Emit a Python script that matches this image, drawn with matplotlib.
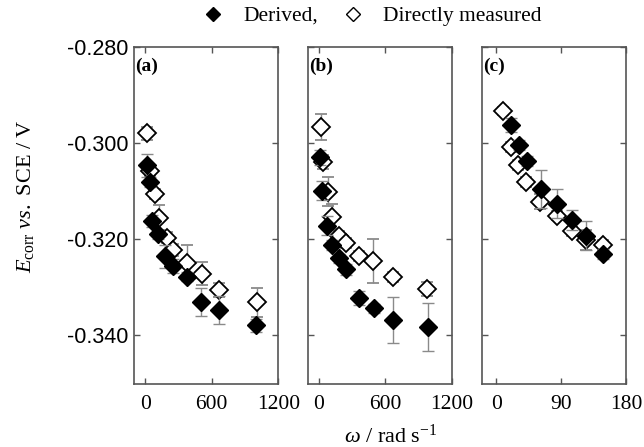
import matplotlib
matplotlib.use('Agg')
import matplotlib.pyplot as plt
from matplotlib.lines import Line2D

plt.rcParams['font.family'] = ['Liberation Serif', 'DejaVu Serif']
plt.rcParams['mathtext.fontset'] = 'custom'
plt.rcParams['mathtext.rm'] = 'Liberation Serif'
plt.rcParams['mathtext.it'] = 'Liberation Serif:italic'

# panel (a)
a_der_w = [21, 45, 66, 119, 179, 254, 373, 502, 666, 995]
a_der_E = [-0.3046, -0.3081, -0.3162, -0.3190, -0.3236, -0.3256, -0.3278, -0.3331, -0.3347, -0.3379]
a_der_err = [0.0024, 0.0010, 0.0012, 0.0010, 0.0023, 0.0015, 0.0010, 0.0029, 0.0029, 0.0014]
a_dir_w = [21, 45, 87, 128, 194, 254, 373, 511, 666, 1004]
a_dir_E = [-0.2980, -0.3059, -0.3106, -0.3155, -0.3197, -0.3222, -0.3249, -0.3272, -0.3306, -0.3331]
a_dir_err = [0.0013, 0.0010, 0.0010, 0.0026, 0.0012, 0.0012, 0.0036, 0.0024, 0.0015, 0.0030]

# panel (b)
b_der_w = [15, 30, 74, 124, 186, 251, 361, 500, 674, 984]
b_der_E = [-0.3030, -0.3099, -0.3172, -0.3212, -0.3240, -0.3263, -0.3322, -0.3344, -0.3368, -0.3382]
b_der_err = [0.0015, 0.0020, 0.0020, 0.0010, 0.0010, 0.0012, 0.0015, 0.0010, 0.0047, 0.0050]
b_dir_w = [21, 39, 89, 119, 183, 251, 361, 494, 674, 975]
b_dir_E = [-0.2966, -0.3040, -0.3101, -0.3153, -0.3193, -0.3208, -0.3235, -0.3245, -0.3279, -0.3304]
b_dir_err = [0.0027, 0.0015, 0.0030, 0.0026, 0.0010, 0.0010, 0.0010, 0.0046, 0.0010, 0.0014]

# panel (c)
c_der_w = [20, 32, 43, 62, 84, 105, 125, 148]
c_der_E = [-0.2963, -0.3004, -0.3037, -0.3096, -0.3126, -0.3160, -0.3193, -0.3231]
c_der_err = [0.0015, 0.0010, 0.0010, 0.0040, 0.0030, 0.0020, 0.0030, 0.0010]
c_dir_w = [10, 20, 31, 42, 61, 84, 105, 125, 148]
c_dir_E = [-0.2934, -0.3009, -0.3046, -0.3081, -0.3122, -0.3151, -0.3184, -0.3202, -0.3212]
c_dir_err = [0.0008, 0.0010, 0.0010, 0.0010, 0.0015, 0.0010, 0.0010, 0.0020, 0.0010]

panels = [
    ('(a)', a_der_w, a_der_E, a_der_err, a_dir_w, a_dir_E, a_dir_err, (-100, 1200), [0, 600, 1200]),
    ('(b)', b_der_w, b_der_E, b_der_err, b_dir_w, b_dir_E, b_dir_err, (-100, 1200), [0, 600, 1200]),
    ('(c)', c_der_w, c_der_E, c_der_err, c_dir_w, c_dir_E, c_dir_err, (-20, 180), [0, 90, 180]),
]
yt = [-0.34, -0.32, -0.30, -0.28]
lefts = [134, 307.5, 481.7]
W, H = 644, 447

fig = plt.figure(figsize=(6.44, 4.47), dpi=100)
for i, (tag, dw, dE, de, mw, mE, me, xl, xt) in enumerate(panels):
    ax = fig.add_axes([lefts[i] / W, 1 - 383.5 / H, 144.3 / W, 336.8 / H])
    ax.errorbar(mw, mE, yerr=me, fmt='D', ms=9, mfc='white', mec='black', mew=1.3,
                ecolor='#8a8a8a', elinewidth=1, capsize=4.5, zorder=2)
    ax.errorbar(dw, dE, yerr=de, fmt='D', ms=9, mfc='black', mec='black',
                ecolor='#8a8a8a', elinewidth=1, capsize=4.5, zorder=3)
    ax.set_xlim(*xl)
    ax.set_ylim(-0.350, -0.280)
    ax.set_xticks(xt)
    ax.set_xticklabels([str(v) for v in xt], family='Liberation Serif')
    ax.set_yticks(yt)
    ax.tick_params(direction='in', top=True, right=True, length=4, width=1, color='#555555')
    ax.tick_params(axis='x', labelsize=15.5, pad=8)
    ax.tick_params(axis='y', labelsize=15.5, pad=4)
    for s in ax.spines.values():
        s.set_color('#555555')
        s.set_linewidth(1.2)
    if i == 0:
        ax.set_yticklabels(['%.3f' % v for v in yt], family='Liberation Sans')
    else:
        ax.set_yticklabels([])
    ax.text(0.008, 1 - 11 / 336.8, tag, transform=ax.transAxes, fontsize=14,
            fontweight='bold', va='top', ha='left')

fig.text(26 / W, 1 - 196 / H, r'$E_{\mathrm{corr}}$ $\mathit{vs.}$ SCE / V', rotation=90,
         fontsize=16, ha='center', va='center')
fig.text(391 / W, 1 - 443 / H, r'$\omega$ / rad s$^{-1}$', fontsize=16, ha='center',
         va='baseline')

handles = [Line2D([], [], marker='D', ls='none', mfc='black', mec='black', ms=7),
           Line2D([], [], marker='D', ls='none', mfc='white', mec='black', mew=1, ms=7)]
fig.legend(handles, ['Derived,', 'Directly measured'], loc='center', ncol=2,
           bbox_to_anchor=(371 / W, 1 - 16 / H), frameon=False, fontsize=15.5,
           handletextpad=0.8, columnspacing=1.0, handlelength=1.2)

fig.savefig('out.png', dpi=100)
